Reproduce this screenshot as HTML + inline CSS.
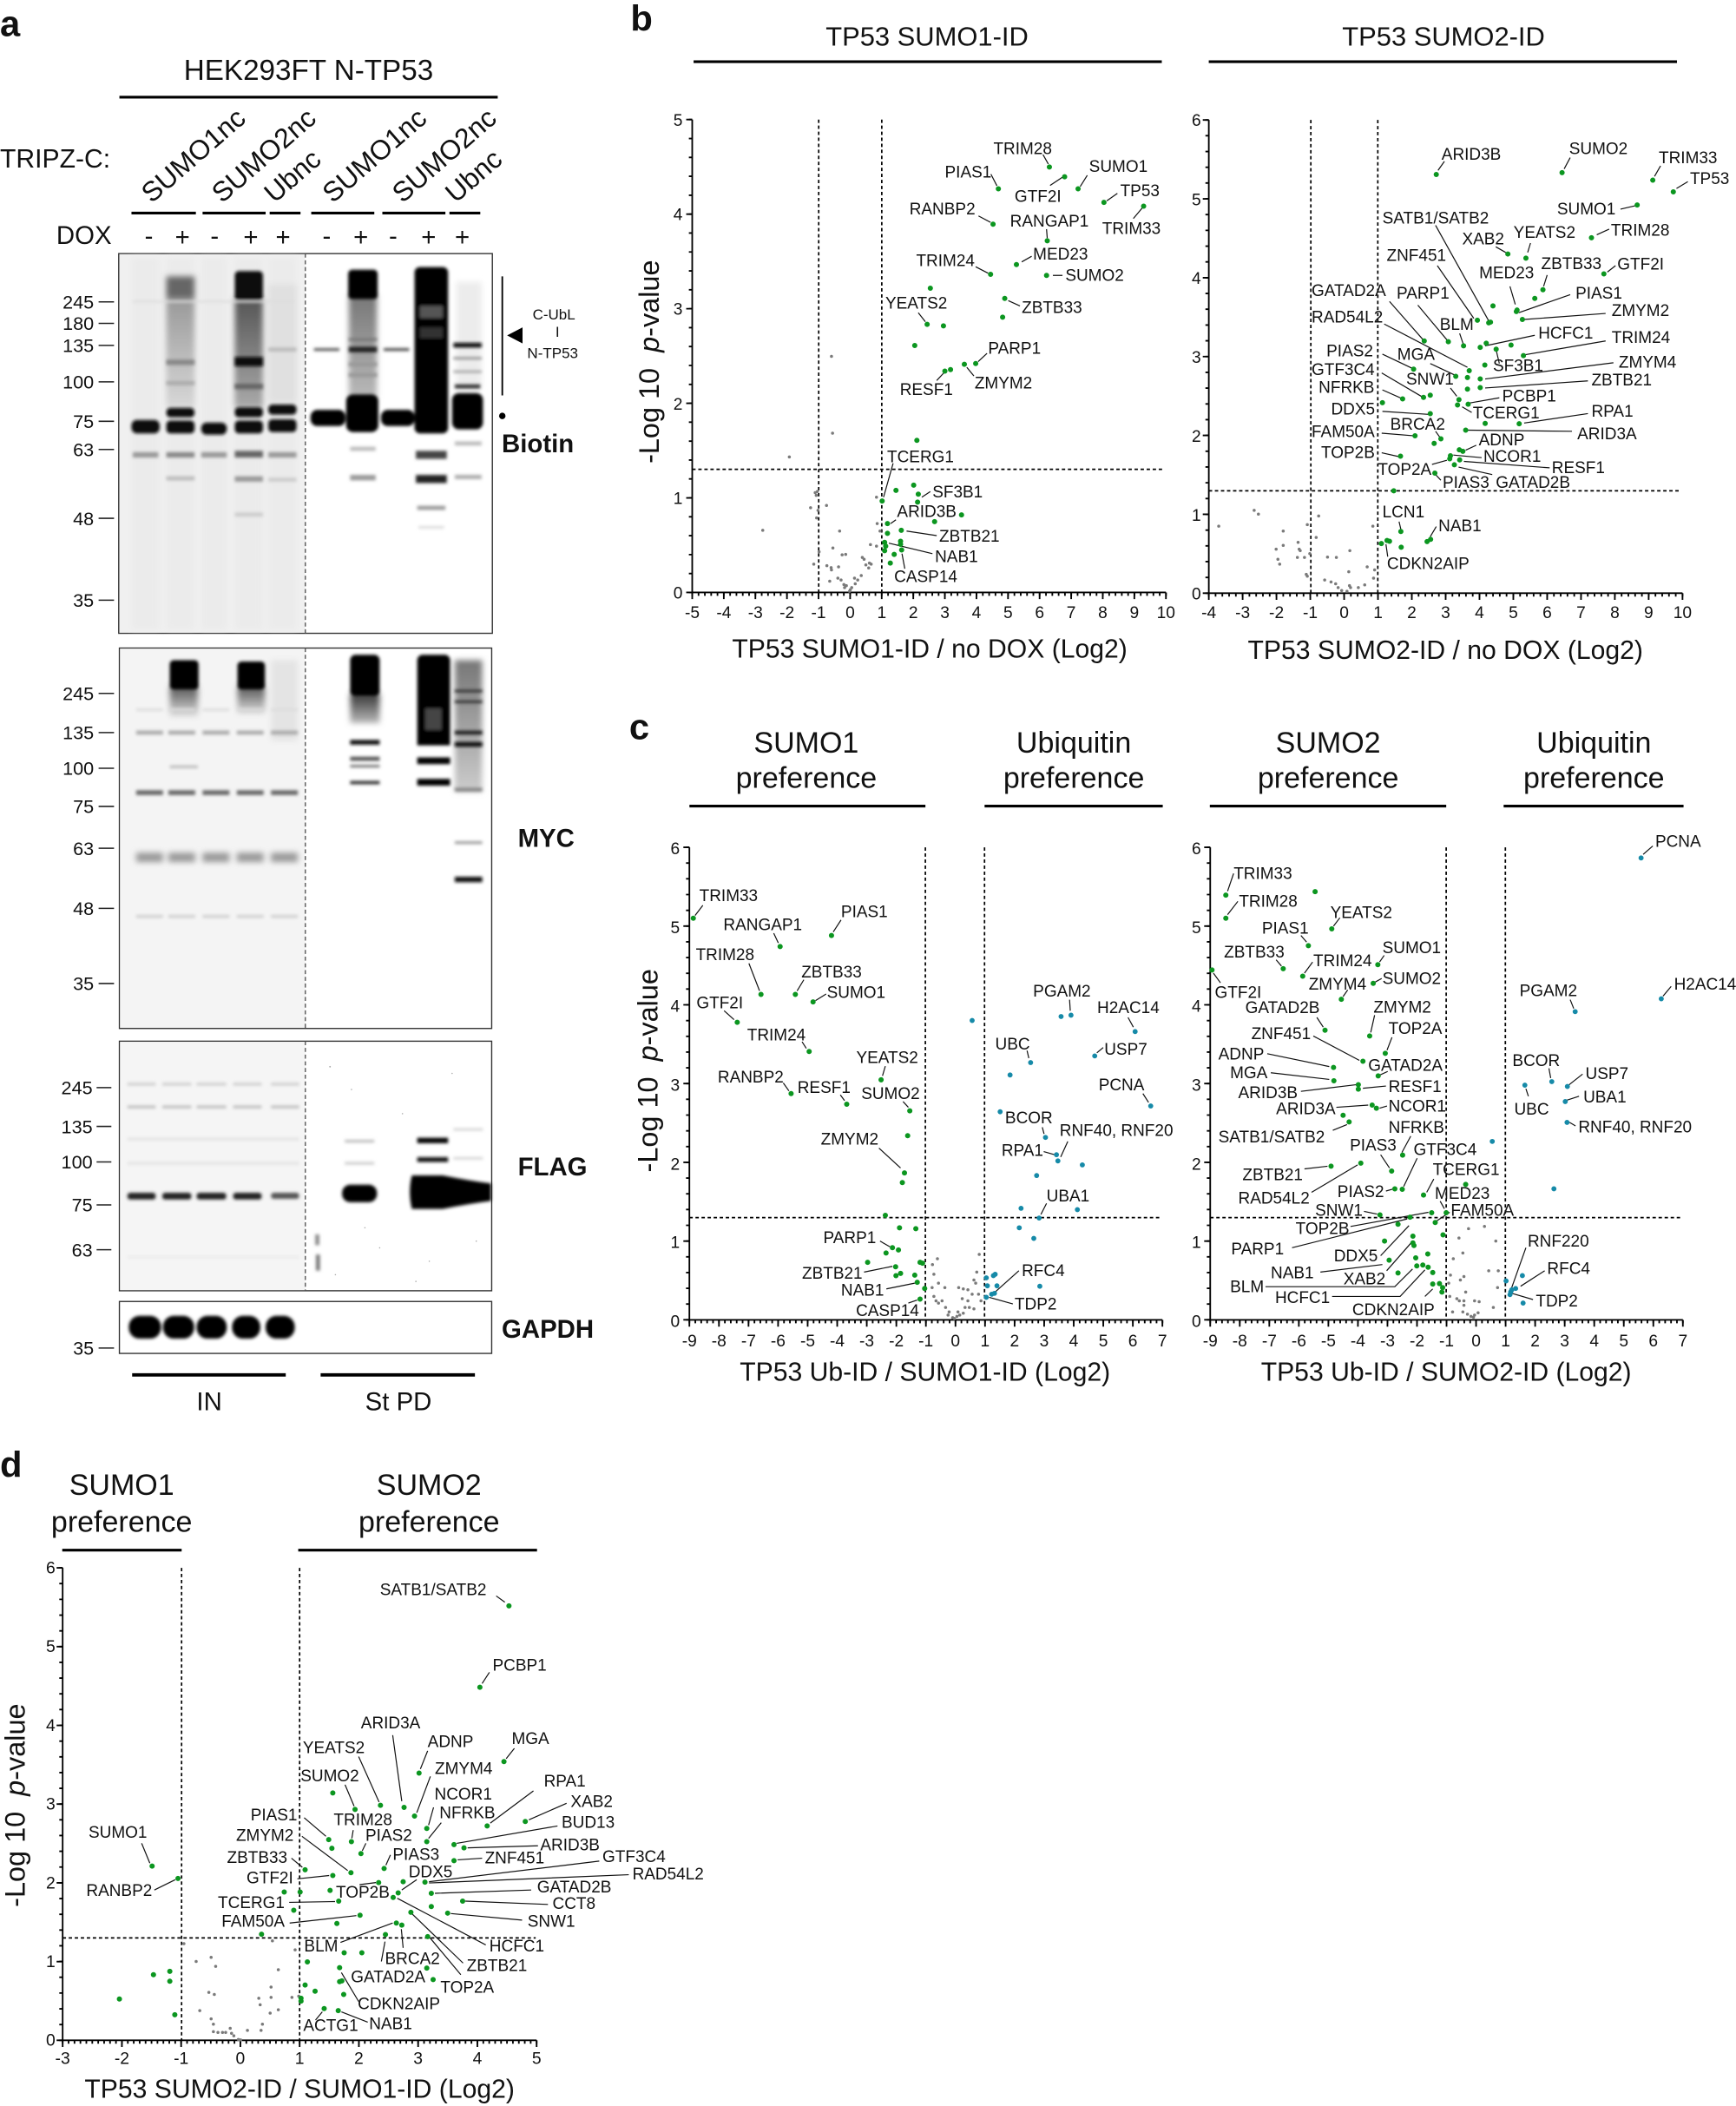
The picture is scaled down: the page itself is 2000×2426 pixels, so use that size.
<!DOCTYPE html>
<html><head><meta charset="utf-8"><style>
html,body{margin:0;padding:0;background:#fff}
svg{display:block}
svg text{font-family:"Liberation Sans",Arial,Helvetica,sans-serif;fill:#111}
.g3 text,.g4 text{transform-box:fill-box;transform-origin:0 100%;transform:scaleY(0.941)}
.g5 text,.g6 text{transform-box:fill-box;transform-origin:0 100%;transform:scaleY(0.8)}
.g7 text{transform-box:fill-box;transform-origin:0 100%;transform:scaleY(1.0994)}
.lb{font-size:46.5px}.tk{font-size:47px}
.lb7{font-size:36.3px}.tk7{font-size:37px}
.ld{fill:none;stroke:#111;stroke-width:1.2}
.gd{fill:none;stroke:#0c9620;stroke-width:6;stroke-linecap:round}
.bd{fill:none;stroke:#168aa8;stroke-width:5.8;stroke-linecap:round}
.gy{fill:none;stroke:#7a7a7a;stroke-width:3.5;stroke-linecap:round}
</style></head><body>
<svg xmlns="http://www.w3.org/2000/svg" width="2000" height="2426" viewBox="0 0 1294 1569.6" preserveAspectRatio="none">
<defs>
<filter id="bl" x="-20%" y="-20%" width="140%" height="140%"><feGaussianBlur stdDeviation="1.2"/></filter>
<filter id="bl2" x="-20%" y="-20%" width="140%" height="140%"><feGaussianBlur stdDeviation="2.2"/></filter>
<linearGradient id="gA" x1="0" y1="0" x2="0" y2="1"><stop offset="0" stop-color="#999"/><stop offset="1" stop-color="#d8d8d8"/></linearGradient>
<linearGradient id="gB" x1="0" y1="0" x2="0" y2="1"><stop offset="0" stop-color="#555"/><stop offset="1" stop-color="#aaa"/></linearGradient>
<linearGradient id="gC" x1="0" y1="0" x2="0" y2="1"><stop offset="0" stop-color="#777"/><stop offset="1" stop-color="#bbb"/></linearGradient>
<linearGradient id="gD" x1="0" y1="0" x2="0" y2="1"><stop offset="0" stop-color="#555"/><stop offset="1" stop-color="#e0e0e0"/></linearGradient>
<linearGradient id="gE" x1="0" y1="0" x2="0" y2="1"><stop offset="0" stop-color="#333"/><stop offset="1" stop-color="#bbb"/></linearGradient>
<linearGradient id="gF" x1="0" y1="0" x2="0" y2="1"><stop offset="0" stop-color="#777"/><stop offset="1" stop-color="#ccc"/></linearGradient>
</defs>
<rect x="0" y="0" width="1294" height="1569.6" fill="#fff"/>

<!-- ================= PANEL A ================= -->
<text x="0" y="27" font-size="27" font-weight="bold">a</text>
<text x="230" y="59.5" font-size="21.5" text-anchor="middle">HEK293FT N-TP53</text>
<line x1="89" y1="72.4" x2="371" y2="72.4" stroke="#000" stroke-width="2"/>
<text x="0" y="125" font-size="19.5">TRIPZ-C:</text>
<g font-size="20.5">
<text transform="translate(113,152) rotate(-41)">SUMO1nc</text>
<text transform="translate(165.5,152) rotate(-41)">SUMO2nc</text>
<text transform="translate(204.5,152) rotate(-41)">Ubnc</text>
<text transform="translate(248,152) rotate(-41)">SUMO1nc</text>
<text transform="translate(300,152) rotate(-41)">SUMO2nc</text>
<text transform="translate(339.5,152) rotate(-41)">Ubnc</text>
</g>
<g stroke="#000" stroke-width="2">
<line x1="98" y1="158.8" x2="146" y2="158.8"/><line x1="151" y1="158.8" x2="198" y2="158.8"/><line x1="201" y1="158.8" x2="224" y2="158.8"/>
<line x1="232" y1="158.8" x2="279" y2="158.8"/><line x1="285" y1="158.8" x2="332" y2="158.8"/><line x1="335" y1="158.8" x2="358" y2="158.8"/>
</g>
<text x="42" y="181.7" font-size="19">DOX</text>
<g font-size="19" text-anchor="middle">
<text x="111" y="182">-</text><text x="136" y="183">+</text><text x="160" y="182">-</text><text x="187" y="183">+</text><text x="211" y="183">+</text>
<text x="243.5" y="182">-</text><text x="269" y="183">+</text><text x="293" y="182">-</text><text x="319.5" y="183">+</text><text x="344.6" y="183">+</text>
</g>

<!-- Blot 1 Biotin -->
<rect x="88.5" y="189" width="278.5" height="283" fill="#fff" stroke="#333" stroke-width="0.9"/>
<rect x="89" y="189.5" width="138.5" height="282" fill="#f0f0f0"/>
<g fill="#ebebeb" filter="url(#bl2)"><rect x="98" y="192" width="21" height="277"/><rect x="124" y="192" width="21" height="277"/><rect x="150" y="192" width="19" height="277"/><rect x="175" y="192" width="21" height="277"/><rect x="200" y="192" width="21" height="277"/></g>
<g filter="url(#bl2)">
<rect x="124" y="206" width="21" height="18" fill="#666"/>
<rect x="124" y="222" width="21" height="82" fill="url(#gA)"/>
<rect x="175" y="222" width="21" height="82" fill="url(#gB)"/>
<rect x="200" y="212" width="21" height="88" fill="#e0e0e0"/>
<rect x="260" y="220" width="21" height="78" fill="url(#gC)"/>
<rect x="340" y="210" width="19" height="80" fill="#ececec"/>
</g>
<g filter="url(#bl)">
<rect x="99" y="224" width="120" height="1.5" fill="#ddd"/>
<rect x="98" y="313" width="21" height="10" rx="4" fill="#111"/>
<rect x="99" y="337" width="19" height="4" fill="#999"/>
<rect x="124" y="268" width="21" height="4" fill="#888"/>
<rect x="124" y="284" width="21" height="3" fill="#aaa"/>
<rect x="124" y="304" width="21" height="7" rx="3" fill="#111"/>
<rect x="124" y="313.5" width="21" height="9.5" rx="3" fill="#111"/>
<rect x="124" y="337" width="21" height="4" fill="#888"/>
<rect x="124" y="355" width="21" height="3" fill="#bbb"/>
<rect x="150" y="315" width="19" height="9" rx="4" fill="#111"/>
<rect x="150" y="337" width="19" height="4" fill="#999"/>
<rect x="175" y="202" width="21" height="22" rx="3" fill="#111"/>
<rect x="175" y="266" width="21" height="7" fill="#111"/>
<rect x="175" y="286" width="21" height="4" fill="#666"/>
<rect x="175" y="303.5" width="21" height="7.5" rx="3" fill="#111"/>
<rect x="175" y="313.5" width="21" height="9.5" rx="3" fill="#111"/>
<rect x="175" y="336" width="21" height="5" fill="#666"/>
<rect x="175" y="355" width="21" height="4" fill="#999"/>
<rect x="175" y="382" width="21" height="3" fill="#ccc"/>
<rect x="200" y="259" width="21" height="3" fill="#bbb"/>
<rect x="200" y="301.5" width="21" height="7.5" rx="3" fill="#111"/>
<rect x="200" y="312.5" width="21" height="9.5" rx="3" fill="#111"/>
<rect x="200" y="337" width="21" height="4" fill="#999"/>
<rect x="200" y="356" width="21" height="3" fill="#ccc"/>
<rect x="234" y="259.5" width="19" height="2" fill="#555"/>
<rect x="231.5" y="305.5" width="26" height="12" rx="5" fill="#000"/>
<rect x="259.5" y="201" width="22" height="22" rx="3" fill="#000"/>
<rect x="260" y="252" width="21" height="2" fill="#777"/>
<rect x="260" y="258.5" width="21" height="4" fill="#222"/>
<rect x="260" y="270" width="21" height="3" fill="#999"/>
<rect x="260" y="278" width="21" height="3" fill="#999"/>
<rect x="258" y="294" width="24" height="28" rx="5" fill="#000"/>
<rect x="261" y="333" width="19" height="3" fill="#bbb"/>
<rect x="261" y="354" width="19" height="4" fill="#999"/>
<rect x="286" y="259.5" width="19" height="2" fill="#444"/>
<rect x="284" y="305.5" width="25" height="12" rx="5" fill="#000"/>
<rect x="309" y="199" width="25" height="124" rx="4" fill="#000"/>
<rect x="313" y="228" width="17" height="9" fill="#555"/>
<rect x="313" y="244" width="17" height="8" fill="#333"/>
<rect x="310" y="336" width="23" height="6" fill="#444"/>
<rect x="310" y="354" width="23" height="6" fill="#222"/>
<rect x="311" y="377" width="21" height="3" fill="#999"/>
<rect x="312" y="392" width="19" height="2" fill="#ddd"/>
<rect x="338" y="255.5" width="21" height="3.5" fill="#111"/>
<rect x="338" y="266" width="21" height="2" fill="#999"/>
<rect x="338" y="276" width="21" height="2" fill="#aaa"/>
<rect x="339" y="286.5" width="19" height="3" fill="#333"/>
<rect x="337" y="293" width="23" height="27" rx="5" fill="#000"/>
<rect x="339" y="329" width="20" height="3" fill="#bbb"/>
<rect x="339" y="354" width="20" height="3" fill="#aaa"/>
</g>
<line x1="227.6" y1="189" x2="227.6" y2="472" stroke="#555" stroke-width="0.9" stroke-dasharray="3 2"/>

<!-- Blot 2 MYC -->
<rect x="89" y="483" width="277.5" height="283.5" fill="#fff" stroke="#333" stroke-width="0.9"/>
<rect x="89.5" y="483.5" width="138" height="282.5" fill="#f4f4f4"/>
<g filter="url(#bl2)">
<rect x="126.5" y="512" width="21" height="22" fill="url(#gD)"/>
<rect x="177" y="512" width="20.5" height="20" fill="url(#gD)"/>
<rect x="202" y="492" width="20" height="60" fill="#e4e4e4"/>
<rect x="261" y="517" width="22" height="22" fill="url(#gE)"/>
<rect x="339" y="492" width="20.5" height="98" fill="url(#gF)"/>
<g fill="#999"><rect x="101.5" y="635.5" width="20" height="7"/><rect x="125.5" y="635.5" width="20" height="7"/><rect x="151" y="635.5" width="20" height="7"/><rect x="176.5" y="635.5" width="20" height="7"/><rect x="202" y="635.5" width="20" height="7"/></g>
</g>
<g filter="url(#bl)">
<g fill="#ddd"><rect x="101.5" y="528" width="20" height="2"/><rect x="125.5" y="528" width="20" height="2"/><rect x="151" y="528" width="20" height="2"/><rect x="176.5" y="528" width="20" height="2"/><rect x="202" y="528" width="20" height="2"/></g>
<g fill="#aaa"><rect x="101.5" y="544.5" width="20" height="3"/><rect x="125.5" y="544.5" width="20" height="3"/><rect x="151" y="544.5" width="20" height="3"/><rect x="176.5" y="544.5" width="20" height="3"/><rect x="202" y="544.5" width="20" height="3"/></g>
<g fill="#666"><rect x="101.5" y="589" width="20" height="3.5"/><rect x="125.5" y="589" width="20" height="3.5"/><rect x="151" y="589" width="20" height="3.5"/><rect x="176.5" y="589" width="20" height="3.5"/><rect x="202" y="589" width="20" height="3.5"/></g>
<g fill="#ccc"><rect x="101.5" y="682" width="20" height="2"/><rect x="125.5" y="682" width="20" height="2"/><rect x="151" y="682" width="20" height="2"/><rect x="176.5" y="682" width="20" height="2"/><rect x="202" y="682" width="20" height="2"/></g>
<rect x="126.5" y="492" width="21.5" height="22" rx="3" fill="#000"/>
<rect x="126.5" y="570.5" width="21" height="2" fill="#bbb"/>
<rect x="177" y="493" width="20.5" height="21" rx="3" fill="#000"/>
<rect x="261" y="488" width="22" height="31" rx="4" fill="#000"/>
<rect x="261" y="551.5" width="22" height="3.5" fill="#111"/>
<rect x="261" y="564" width="22" height="3" fill="#555"/>
<rect x="261" y="570" width="22" height="2" fill="#777"/>
<rect x="261" y="582" width="22" height="2.5" fill="#333"/>
<rect x="311" y="488" width="24.5" height="66" rx="4" fill="#000"/>
<rect x="317" y="528" width="12" height="16" fill="#444"/>
<rect x="311" y="550.5" width="24.5" height="5" fill="#000"/>
<rect x="311" y="564.5" width="24.5" height="5" fill="#000"/>
<rect x="311" y="580.5" width="24.5" height="5" fill="#000"/>
<rect x="339" y="514" width="20.5" height="2" fill="#333"/>
<rect x="339" y="522" width="20.5" height="2" fill="#333"/>
<rect x="339" y="544.5" width="20.5" height="3" fill="#222"/>
<rect x="339" y="553" width="20.5" height="3.5" fill="#111"/>
<rect x="339" y="587" width="20.5" height="3" fill="#888"/>
<rect x="339" y="627" width="20.5" height="2" fill="#999"/>
<rect x="339" y="653.5" width="20.5" height="4" fill="#111"/>
</g>
<line x1="227.6" y1="483" x2="227.6" y2="766.5" stroke="#555" stroke-width="0.9" stroke-dasharray="3 2"/>

<!-- Blot 3 FLAG -->
<rect x="89" y="776" width="277.5" height="186" fill="#fff" stroke="#333" stroke-width="0.9"/>
<rect x="89.5" y="776.5" width="138" height="185" fill="#f5f5f5"/>
<g filter="url(#bl)">
<g fill="#222"><rect x="95" y="889" width="21" height="5" rx="2"/><rect x="121" y="889" width="21.6" height="5" rx="2"/><rect x="146.6" y="889" width="22" height="5" rx="2"/><rect x="173.8" y="889" width="21.2" height="5" rx="2"/></g>
<rect x="202" y="889" width="21" height="4.5" rx="2" fill="#555"/>
<g fill="#ccc"><rect x="95" y="807" width="21" height="2"/><rect x="121" y="807" width="21.6" height="2"/><rect x="146.6" y="807" width="22" height="2"/><rect x="173.8" y="807" width="21.2" height="2"/><rect x="202" y="807" width="21" height="2"/></g>
<g fill="#bbb"><rect x="95" y="824" width="21" height="2"/><rect x="121" y="824" width="21.6" height="2"/><rect x="146.6" y="824" width="22" height="2"/><rect x="173.8" y="824" width="21.2" height="2"/><rect x="202" y="824" width="21" height="2"/></g>
<g fill="#e2e2e2"><rect x="95" y="848" width="128" height="2"/><rect x="95" y="866" width="128" height="2"/></g>
<rect x="95" y="936" width="128" height="2" fill="#ebebeb"/>
<rect x="255" y="883" width="26" height="13" rx="6" fill="#000"/>
<rect x="257" y="849.5" width="22" height="2" fill="#bbb"/>
<rect x="257" y="866" width="22" height="2" fill="#ccc"/>
<path d="M307 876 Q304 888 307 901 L330 901 Q350 897 366 895 L366 882 Q350 880 330 876 Z" fill="#000"/>
<rect x="311" y="848" width="23" height="4" fill="#000"/>
<rect x="311" y="862.5" width="23" height="3.5" fill="#111"/>
<rect x="338" y="841" width="22" height="1.5" fill="#ccc"/>
<rect x="338" y="862.5" width="22" height="1.5" fill="#ccc"/>
<rect x="235" y="920" width="3" height="8" fill="#888"/>
<rect x="235.5" y="935" width="3" height="12" fill="#777"/>
</g>
<g fill="#aaa"><circle cx="246" cy="795" r="0.6"/><circle cx="262" cy="812" r="0.5"/><circle cx="300" cy="830" r="0.5"/><circle cx="283" cy="930" r="0.5"/><circle cx="250" cy="950" r="0.5"/><circle cx="320" cy="940" r="0.5"/><circle cx="355" cy="925" r="0.5"/><circle cx="272" cy="915" r="0.5"/><circle cx="337" cy="800" r="0.5"/><circle cx="310" cy="955" r="0.5"/></g>
<line x1="227.6" y1="776" x2="227.6" y2="962" stroke="#555" stroke-width="0.9" stroke-dasharray="3 2"/>

<!-- Blot 4 GAPDH -->
<rect x="89" y="970" width="277.5" height="38.7" fill="#fff" stroke="#333" stroke-width="0.9"/>
<g filter="url(#bl)" fill="#000">
<rect x="96" y="980.7" width="24" height="17" rx="8"/><rect x="121.5" y="980.7" width="23.2" height="17" rx="8"/><rect x="146.6" y="980.7" width="22.4" height="17" rx="8"/><rect x="173" y="980.7" width="21" height="17" rx="8"/><rect x="198" y="980.7" width="21.7" height="17" rx="8"/>
</g>

<!-- MW markers -->
<g font-size="14" text-anchor="end">
<text x="70" y="230">245</text><text x="70" y="246">180</text><text x="70" y="262.4">135</text><text x="70" y="289.6">100</text><text x="70" y="319">75</text><text x="70" y="340">63</text><text x="70" y="391.3">48</text><text x="70" y="452.3">35</text>
<text x="70" y="521.8">245</text><text x="70" y="551">135</text><text x="70" y="577.6">100</text><text x="70" y="606">75</text><text x="70" y="637.2">63</text><text x="70" y="682">48</text><text x="70" y="738">35</text>
<text x="69" y="815.6">245</text><text x="69" y="844.5">135</text><text x="69" y="871">100</text><text x="69" y="903">75</text><text x="69" y="936.4">63</text>
<text x="70" y="1009.7">35</text>
</g>
<g stroke="#222" stroke-width="1">
<path d="M73.5 225H85M73.5 241H85M73.5 257.4H85M73.5 284.6H85M73.5 314H85M73.5 335H85M73.5 386.3H85M73.5 447.3H85"/>
<path d="M73.5 516.8H85M73.5 546H85M73.5 572.6H85M73.5 601H85M73.5 632.2H85M73.5 677H85M73.5 733H85"/>
<path d="M72 810.6H83M72 839.5H83M72 866H83M72 898H83M72 931.4H83"/>
<path d="M73.5 1004.7H85"/>
</g>
<!-- right annotations -->
<line x1="374.4" y1="206" x2="374.4" y2="294.7" stroke="#000" stroke-width="1.2"/>
<path d="M378 250 L389.5 244 L389.5 256 Z" fill="#000"/>
<g font-size="11"><text x="397" y="238">C-UbL</text><text x="414" y="251">I</text><text x="393" y="267">N-TP53</text></g>
<circle cx="374.4" cy="310" r="2.4" fill="#000"/>
<g font-size="19" font-weight="bold">
<text x="374" y="337">Biotin</text>
<text x="386" y="631">MYC</text>
<text x="386" y="876">FLAG</text>
<text x="374" y="997">GAPDH</text>
</g>
<line x1="98.5" y1="1024.7" x2="213" y2="1024.7" stroke="#000" stroke-width="2.5"/>
<line x1="239" y1="1024.7" x2="354" y2="1024.7" stroke="#000" stroke-width="2.5"/>
<text x="156" y="1051" font-size="19" text-anchor="middle">IN</text>
<text x="297" y="1051" font-size="19" text-anchor="middle">St PD</text>

<!-- ================= PANEL B ================= -->
<text x="470" y="23" font-size="27" font-weight="bold">b</text>
<text x="691" y="34" font-size="20" text-anchor="middle">TP53 SUMO1-ID</text>
<line x1="517" y1="46" x2="866" y2="46" stroke="#000" stroke-width="2"/>
<text x="1076" y="34" font-size="20" text-anchor="middle">TP53 SUMO2-ID</text>
<line x1="901" y1="46" x2="1250" y2="46" stroke="#000" stroke-width="2"/>
<text transform="translate(491,269.6) rotate(-90)" font-size="21" text-anchor="middle" xml:space="preserve">-Log 10  <tspan font-style="italic">p</tspan>-value</text>
<text x="693" y="490" font-size="19.5" text-anchor="middle">TP53 SUMO1-ID / no DOX (Log2)</text>
<text x="1077.4" y="491" font-size="19.5" text-anchor="middle">TP53 SUMO2-ID / no DOX (Log2)</text>

<g class="g3" transform="translate(465.8,64.7) scale(0.2641,0.2806)">
<g stroke="#000" fill="none">
<line x1="547" y1="87" x2="547" y2="1343" stroke-width="4.2" stroke-dasharray="8.9 7.1"/>
<line x1="725" y1="87" x2="725" y2="1343" stroke-width="4.2" stroke-dasharray="8.9 7.1"/>
<line x1="190" y1="1016" x2="1522" y2="1016" stroke-width="3.9" stroke-dasharray="9.5 7.6"/>
<line x1="190" y1="87" x2="190" y2="1343" stroke-width="4.54"/>
<line x1="188" y1="1343" x2="1527" y2="1343" stroke-width="4.28"/>
<line x1="181.5" y1="84.86" x2="181.5" y2="1346" stroke-width="17" stroke-dasharray="4.28 246.92"/>
<line x1="185.25" y1="84.86" x2="185.25" y2="1346" stroke-width="9.5" stroke-dasharray="4.28 45.96"/>
<line x1="187.73" y1="1351.9" x2="1531" y2="1351.9" stroke-width="17.8" stroke-dasharray="4.54 84.59"/>
<line x1="187.73" y1="1347.45" x2="1531" y2="1347.45" stroke-width="8.9" stroke-dasharray="4.54 13.29"/>
</g>
<g class="tk" text-anchor="end"><text x="163" y="102.6">5</text><text x="163" y="353.6">4</text><text x="163" y="604.6">3</text><text x="163" y="856.6">2</text><text x="163" y="1107.6">1</text><text x="163" y="1358.6">0</text></g>
<g class="tk" text-anchor="middle"><text x="190" y="1410">-5</text><text x="279.1" y="1410">-4</text><text x="368.3" y="1410">-3</text><text x="457.4" y="1410">-2</text><text x="546.5" y="1410">-1</text><text x="635.7" y="1410">0</text><text x="724.8" y="1410">1</text><text x="813.9" y="1410">2</text><text x="903" y="1410">3</text><text x="992.2" y="1410">4</text><text x="1081.3" y="1410">5</text><text x="1170.4" y="1410">6</text><text x="1259.6" y="1410">7</text><text x="1348.7" y="1410">8</text><text x="1437.8" y="1410">9</text><text x="1527" y="1410">10</text></g>
<path class="gy" vector-effect="non-scaling-stroke" d="M583 716h.1M586 920h.1M464 983h.1M389 1178h.1M537 1078h.1M543 1075h.1M540 1085h.1M524 1118h.1M545 1125h.1M569 1112h.1M541 1145h.1M710 1090h.1M712 1160h.1M606 1180h.1M720 1180h.1M587 1225h.1M533 1268h.1M548 1235h.1M570 1272h.1M583 1283h.1M582 1277h.1M603 1275h.1M613 1243h.1M623 1242h.1M578 1313h.1M601 1305h.1M610 1310h.1M618 1322h.1M620 1330h.1M634 1340h.1M640 1330h.1M650 1320h.1M657 1310h.1M667 1298h.1M670 1250h.1M675 1255h.1M680 1270h.1M688 1278h.1M693 1216h.1M710 1220h.1M690 1265h.1M695 1268h.1M648 1305h.1M625 1325h.1M636 1336h.1"/>
<path class="ld" vector-effect="non-scaling-stroke" d="M1180 180L1195 205M1200 262L1235 240M1285 265L1305 235M1033 232L1050 263M1360 303L1390 283M1435 350L1460 322M998 343L1032 360M1190 378L1192 402M1120 465L1148 450M990 478L1025 495M1208 501L1235 501M1082 568L1115 582M828 600L848 624M997 730L1022 708M965 745L985 768M880 780L900 760M757 1000L730 1090M838 1090L862 1075M750 1160L765 1150M795 1180L880 1192M745 1212L868 1240M782 1240L790 1280"/>
<path class="gd" vector-effect="non-scaling-stroke" d="M1198 213h.1M1241 239h.1M1279 271h.1M1054 271h.1M1352 307h.1M1464 317h.1M1039 365h.1M1192 409h.1M1105 472h.1M1032 498h.1M1190 501h.1M862 535h.1M1072 562h.1M1066 612h.1M853 631h.1M899 635h.1M818 687h.1M990 735h.1M958 737h.1M903 755h.1M919 751h.1M824 939h.1M726 1100h.1M828 1082h.1M815 1058h.1M765 1072h.1M826 1103h.1M950 1137h.1M874 1155h.1M741 1160h.1M741 1186h.1M780 1178h.1M733 1210h.1M736 1220h.1M733 1232h.1M778 1207h.1M778 1215h.1M760 1242h.1M781 1230h.1M749 1265h.1"/>
<g class="lb">
<text x="1040" y="178">TRIM28</text><text x="1100" y="305">GTF2I</text><text x="1310" y="225">SUMO1</text><text x="903" y="240">PIAS1</text><text x="1398" y="290">TP53</text><text x="1347" y="390">TRIM33</text><text x="803" y="338">RANBP2</text><text x="1087" y="370">RANGAP1</text><text x="1152" y="458">MED23</text><text x="822" y="475">TRIM24</text><text x="1243" y="515">SUMO2</text><text x="1120" y="600">ZBTB33</text><text x="735" y="588">YEATS2</text><text x="1025" y="708">PARP1</text><text x="987" y="800">ZMYM2</text><text x="776" y="818">RESF1</text><text x="740" y="997">TCERG1</text><text x="868" y="1090">SF3B1</text><text x="768" y="1142">ARID3B</text><text x="887" y="1207">ZBTB21</text><text x="875" y="1262">NAB1</text><text x="760" y="1315">CASP14</text>
</g>
</g>

<g class="g4" transform="translate(879.9,64.7) scale(0.2641,0.2806)">
<g stroke="#000" fill="none">
<line x1="368" y1="88" x2="368" y2="1345" stroke-width="4.2" stroke-dasharray="8.9 7.1"/>
<line x1="557" y1="88" x2="557" y2="1345" stroke-width="4.2" stroke-dasharray="8.9 7.1"/>
<line x1="80" y1="1073" x2="1412" y2="1073" stroke-width="3.9" stroke-dasharray="9.5 7.6"/>
<line x1="80" y1="88" x2="80" y2="1345" stroke-width="4.54"/>
<line x1="78" y1="1345" x2="1417" y2="1345" stroke-width="4.28"/>
<line x1="71.5" y1="85.86" x2="71.5" y2="1348" stroke-width="17" stroke-dasharray="4.28 205.22"/>
<line x1="75.25" y1="85.86" x2="75.25" y2="1348" stroke-width="9.5" stroke-dasharray="4.28 37.62"/>
<line x1="77.73" y1="1353.9" x2="1421" y2="1353.9" stroke-width="17.8" stroke-dasharray="4.54 90.96"/>
<line x1="77.73" y1="1349.45" x2="1421" y2="1349.45" stroke-width="8.9" stroke-dasharray="4.54 14.56"/>
</g>
<g class="tk" text-anchor="end"><text x="58" y="103.6">6</text><text x="58" y="313.6">5</text><text x="58" y="522.6">4</text><text x="58" y="732.6">3</text><text x="58" y="942.6">2</text><text x="58" y="1151.6">1</text><text x="58" y="1360.6">0</text></g>
<g class="tk" text-anchor="middle"><text x="80" y="1410">-4</text><text x="175.5" y="1410">-3</text><text x="271" y="1410">-2</text><text x="366.5" y="1410">-1</text><text x="462" y="1410">0</text><text x="557.5" y="1410">1</text><text x="653" y="1410">2</text><text x="748.5" y="1410">3</text><text x="844" y="1410">4</text><text x="939.5" y="1410">5</text><text x="1035" y="1410">6</text><text x="1130.5" y="1410">7</text><text x="1226" y="1410">8</text><text x="1321.5" y="1410">9</text><text x="1417" y="1410">10</text></g>
<path class="gy" vector-effect="non-scaling-stroke" d="M108 1167h.1M208 1125h.1M220 1135h.1M290 1180h.1M290 1218h.1M270 1228h.1M275 1255h.1M280 1268h.1M332 1210h.1M335 1228h.1M338 1232h.1M330 1250h.1M350 1250h.1M355 1295h.1M358 1300h.1M390 1140h.1M383 1197h.1M358 1163h.1M365 1240h.1M415 1249h.1M440 1250h.1M407 1310h.1M425 1315h.1M438 1320h.1M445 1330h.1M455 1338h.1M470 1340h.1M477 1325h.1M480 1330h.1M502 1330h.1M520 1323h.1M527 1275h.1M545 1305h.1M548 1283h.1M543 1167h.1M478 1232h.1M475 1288h.1"/>
<path class="ld" vector-effect="non-scaling-stroke" d="M727 222L745 198M1083 218L1100 188M1338 238L1355 210M1400 270L1432 252M1242 325L1283 316M720 368L872 625M1175 393L1210 378M890 425L918 440M980 440L988 415M725 475L828 615M1025 530L1035 500M1205 492L1228 475M930 530L945 578M955 600L1100 552M970 618L1200 602M590 570L685 672M670 580L752 672M575 630L810 745M788 655L798 683M860 688L1000 660M970 712L1200 675M900 735L892 703M570 710L655 748M705 735L773 765M860 776L1222 733M568 760L685 825M762 800L780 822M860 800L1150 781M570 805L625 828M815 840L900 826M570 862L700 870M795 850L822 865M970 893L1150 868M720 915L733 932M568 920L660 927M810 912L1105 915M805 965L835 952M568 972L615 982M770 978L850 985M800 995L1042 1012M710 1003L752 992M720 1030L735 1045M785 1010L880 1030M617 1155L622 1175M705 1195L722 1168M580 1215L585 1248"/>
<path class="gd" vector-effect="non-scaling-stroke" d="M722 233h.1M1077 228h.1M1333 248h.1M1391 279h.1M1289 314h.1M1160 401h.1M924 444h.1M975 455h.1M1023 539h.1M1195 497h.1M948 597h.1M950 593h.1M1000 562h.1M882 582h.1M965 618h.1M688 675h.1M756 677h.1M838 620h.1M870 627h.1M875 625h.1M815 754h.1M799 688h.1M846 692h.1M863 681h.1M968 714h.1M891 697h.1M933 686h.1M859 739h.1M658 750h.1M777 769h.1M846 776h.1M810 772h.1M810 803h.1M686 825h.1M705 819h.1M786 831h.1M782 845h.1M846 799h.1M627 829h.1M812 843h.1M570 839h.1M705 868h.1M956 895h.1M860 894h.1M735 935h.1M662 927h.1M805 912h.1M716 947h.1M787 964h.1M797 968h.1M621 981h.1M762 980h.1M760 988h.1M788 991h.1M718 1026h.1M773 1004h.1M602 1073h.1M622 1181h.1M696 1208h.1M706 1202h.1M567 1213h.1M583 1205h.1M590 1207h.1M623 1223h.1"/>
<g class="lb">
<text x="737" y="193">ARID3B</text><text x="1097" y="178">SUMO2</text><text x="1350" y="202">TRIM33</text><text x="1438" y="258">TP53</text><text x="1063" y="338">SUMO1</text><text x="570" y="362">SATB1/SATB2</text><text x="1215" y="395">TRIM28</text><text x="795" y="418">XAB2</text><text x="940" y="400">YEATS2</text><text x="582" y="462">ZNF451</text><text x="1018" y="484">ZBTB33</text><text x="1233" y="485">GTF2I</text><text x="843" y="508">MED23</text><text x="1115" y="562">PIAS1</text><text x="1217" y="608">ZMYM2</text><text x="370" y="555">GATAD2A</text><text x="610" y="562">PARP1</text><text x="370" y="625">RAD54L2</text><text x="732" y="645">BLM</text><text x="1010" y="668">HCFC1</text><text x="1217" y="680">TRIM24</text><text x="882" y="755">SF3B1</text><text x="412" y="715">PIAS2</text><text x="612" y="725">MGA</text><text x="1237" y="745">ZMYM4</text><text x="370" y="765">GTF3C4</text><text x="637" y="790">SNW1</text><text x="1160" y="792">ZBTB21</text><text x="390" y="812">NFRKB</text><text x="908" y="835">PCBP1</text><text x="425" y="870">DDX5</text><text x="825" y="880">TCERG1</text><text x="1160" y="875">RPA1</text><text x="592" y="910">BRCA2</text><text x="370" y="930">FAM50A</text><text x="1120" y="935">ARID3A</text><text x="842" y="952">ADNP</text><text x="397" y="985">TOP2B</text><text x="855" y="995">NCOR1</text><text x="1048" y="1025">RESF1</text><text x="557" y="1030">TOP2A</text><text x="740" y="1065">PIAS3</text><text x="890" y="1065">GATAD2B</text><text x="570" y="1143">LCN1</text><text x="728" y="1180">NAB1</text><text x="583" y="1280">CDKN2AIP</text>
</g>
</g>

<!-- ================= PANEL C ================= -->
<text x="469" y="551" font-size="27" font-weight="bold">c</text>
<g font-size="22" text-anchor="middle">
<text x="601" y="561">SUMO1</text><text x="601" y="587.3">preference</text>
<text x="800.4" y="561">Ubiquitin</text><text x="800.4" y="587.3">preference</text>
<text x="990" y="561">SUMO2</text><text x="990" y="587.3">preference</text>
<text x="1188.1" y="561">Ubiquitin</text><text x="1188.1" y="587.3">preference</text>
</g>
<g stroke="#000" stroke-width="2">
<line x1="513.9" y1="600.8" x2="689.8" y2="600.8"/><line x1="733.9" y1="600.8" x2="866.7" y2="600.8"/>
<line x1="901.8" y1="600.8" x2="1078" y2="600.8"/><line x1="1120.8" y1="600.8" x2="1254.9" y2="600.8"/>
</g>
<text transform="translate(490,797.9) rotate(-90)" font-size="21" text-anchor="middle" xml:space="preserve">-Log 10  <tspan font-style="italic">p</tspan>-value</text>
<text x="689.5" y="1029" font-size="19.5" text-anchor="middle">TP53 Ub-ID / SUMO1-ID (Log2)</text>
<text x="1078" y="1029" font-size="19.5" text-anchor="middle">TP53 Ub-ID / SUMO2-ID (Log2)</text>

<g class="g5" transform="translate(465.8,530.5) scale(0.2641,0.3301)">
<g stroke="#000" fill="none">
<line x1="848" y1="306" x2="848" y2="1373" stroke-width="4.2" stroke-dasharray="7.6 6.06"/>
<line x1="1015" y1="306" x2="1015" y2="1373" stroke-width="4.2" stroke-dasharray="7.6 6.06"/>
<line x1="182" y1="1142" x2="1512" y2="1142" stroke-width="3.33" stroke-dasharray="9.5 7.6"/>
<line x1="182" y1="306" x2="182" y2="1373" stroke-width="4.54"/>
<line x1="180" y1="1373" x2="1517" y2="1373" stroke-width="3.64"/>
<line x1="173.5" y1="304.18" x2="173.5" y2="1376" stroke-width="17" stroke-dasharray="3.64 174.16"/>
<line x1="177.25" y1="304.18" x2="177.25" y2="1376" stroke-width="9.5" stroke-dasharray="3.64 31.92"/>
<line x1="179.73" y1="1380.6" x2="1521" y2="1380.6" stroke-width="15.1" stroke-dasharray="4.54 78.9"/>
<line x1="179.73" y1="1376.8" x2="1521" y2="1376.8" stroke-width="7.6" stroke-dasharray="4.54 12.15"/>
</g>
<g class="tk" text-anchor="end"><text x="155" y="319.3">6</text><text x="155" y="497.3">5</text><text x="155" y="675.3">4</text><text x="155" y="853.3">3</text><text x="155" y="1031.3">2</text><text x="155" y="1208.3">1</text><text x="155" y="1386.3">0</text></g>
<g class="tk" text-anchor="middle"><text x="182" y="1430">-9</text><text x="265.4" y="1430">-8</text><text x="348.9" y="1430">-7</text><text x="432.3" y="1430">-6</text><text x="515.8" y="1430">-5</text><text x="599.2" y="1430">-4</text><text x="682.6" y="1430">-3</text><text x="766.1" y="1430">-2</text><text x="849.5" y="1430">-1</text><text x="933" y="1430">0</text><text x="1016.4" y="1430">1</text><text x="1099.8" y="1430">2</text><text x="1183.3" y="1430">3</text><text x="1266.7" y="1430">4</text><text x="1350.2" y="1430">5</text><text x="1433.6" y="1430">6</text><text x="1517" y="1430">7</text></g>
<path class="gy" vector-effect="non-scaling-stroke" d="M882 1235h.1M868 1248h.1M872 1270h.1M885 1290h.1M867 1300h.1M903 1300h.1M872 1320h.1M878 1330h.1M885 1335h.1M895 1330h.1M905 1345h.1M915 1355h.1M912 1362h.1M925 1368h.1M930 1370h.1M937 1365h.1M945 1362h.1M955 1358h.1M942 1300h.1M955 1303h.1M968 1305h.1M990 1290h.1M985 1283h.1M993 1265h.1M1000 1225h.1M980 1315h.1M998 1315h.1M1005 1330h.1M960 1345h.1M972 1345h.1M985 1348h.1M968 1330h.1M952 1325h.1M940 1355h.1"/>
<path class="ld" vector-effect="non-scaling-stroke" d="M198 460L220 437M433 522L420 500M588 497L610 470M380 630L350 568M486 630L505 605M538 652L568 637M308 695L280 675M512 760L500 745M727 822L735 800M463 856L447 838M620 878L608 865M800 893L785 880M717 985L778 1030M720 1195L748 1208M675 1265L755 1252M738 1303L818 1290M800 1335L825 1328M1257 675L1255 650M1435 712L1420 690M1332 770L1350 758M1140 782L1135 765M1478 882L1462 862M1183 953L1178 938M1230 1005L1250 970M1182 993L1213 1000M1174 1135L1190 1110M1045 1310L1112 1262M1028 1322L1095 1337"/>
<path class="gd" vector-effect="non-scaling-stroke" d="M193 466h.1M438 530h.1M583 505h.1M384 638h.1M481 638h.1M531 655h.1M317 701h.1M520 767h.1M723 831h.1M469 862h.1M626 886h.1M804 901h.1M798 957h.1M789 1041h.1M783 1063h.1M735 1137h.1M775 1165h.1M821 1167h.1M755 1210h.1M772 1215h.1M737 1222h.1M685 1243h.1M833 1243h.1M840 1245h.1M764 1253h.1M765 1273h.1M778 1268h.1M818 1272h.1M825 1288h.1M846 1302h.1M833 1326h.1"/>
<path class="bd" vector-effect="non-scaling-stroke" d="M980 697h.1M1231 688h.1M1259 685h.1M1440 722h.1M1326 777h.1M1145 792h.1M1087 820h.1M1484 890h.1M1059 903h.1M1187 961h.1M1218 1000h.1M1222 1014h.1M1291 1023h.1M1162 1047h.1M1169 1143h.1M1118 1121h.1M1277 1124h.1M1113 1165h.1M1154 1189h.1M1020 1278h.1M1045 1270h.1M1040 1273h.1M1023 1296h.1M1050 1296h.1M1035 1315h.1M1043 1313h.1M1020 1322h.1M1171 1297h.1"/>
<g class="lb">
<text x="210" y="425">TRIM33</text><text x="278" y="491">RANGAP1</text><text x="610" y="461">PIAS1</text><text x="200" y="558">TRIM28</text><text x="498" y="597">ZBTB33</text><text x="570" y="643">SUMO1</text><text x="202" y="667">GTF2I</text><text x="345" y="740">TRIM24</text><text x="653" y="790">YEATS2</text><text x="262" y="835">RANBP2</text><text x="487" y="858">RESF1</text><text x="667" y="872">SUMO2</text><text x="553" y="975">ZMYM2</text><text x="560" y="1197">PARP1</text><text x="500" y="1278">ZBTB21</text><text x="610" y="1316">NAB1</text><text x="652" y="1362">CASP14</text>
<text x="1152" y="641">PGAM2</text><text x="1333" y="678">H2AC14</text><text x="1353" y="772">USP7</text><text x="1045" y="760">UBC</text><text x="1337" y="852">PCNA</text><text x="1073" y="927">BCOR</text><text x="1227" y="955">RNF40, RNF20</text><text x="1063" y="1000">RPA1</text><text x="1190" y="1103">UBA1</text><text x="1120" y="1272">RFC4</text><text x="1100" y="1347">TDP2</text>
</g>
</g>

<g class="g6" transform="translate(879.9,530.5) scale(0.2641,0.3301)">
<g stroke="#000" fill="none">
<line x1="750" y1="306" x2="750" y2="1373" stroke-width="4.2" stroke-dasharray="7.6 6.06"/>
<line x1="917" y1="306" x2="917" y2="1373" stroke-width="4.2" stroke-dasharray="7.6 6.06"/>
<line x1="84" y1="1142" x2="1412" y2="1142" stroke-width="3.33" stroke-dasharray="9.5 7.6"/>
<line x1="84" y1="306" x2="84" y2="1373" stroke-width="4.54"/>
<line x1="82" y1="1373" x2="1418" y2="1373" stroke-width="3.64"/>
<line x1="75.5" y1="304.18" x2="75.5" y2="1376" stroke-width="17" stroke-dasharray="3.64 174.16"/>
<line x1="79.25" y1="304.18" x2="79.25" y2="1376" stroke-width="9.5" stroke-dasharray="3.64 31.92"/>
<line x1="81.73" y1="1380.6" x2="1422" y2="1380.6" stroke-width="15.1" stroke-dasharray="4.54 78.835"/>
<line x1="81.73" y1="1376.8" x2="1422" y2="1376.8" stroke-width="7.6" stroke-dasharray="4.54 12.135"/>
</g>
<g class="tk" text-anchor="end"><text x="58" y="319.3">6</text><text x="58" y="497.3">5</text><text x="58" y="675.3">4</text><text x="58" y="853.3">3</text><text x="58" y="1031.3">2</text><text x="58" y="1208.3">1</text><text x="58" y="1386.3">0</text></g>
<g class="tk" text-anchor="middle"><text x="84" y="1430">-9</text><text x="167.4" y="1430">-8</text><text x="250.8" y="1430">-7</text><text x="334.1" y="1430">-6</text><text x="417.5" y="1430">-5</text><text x="500.9" y="1430">-4</text><text x="584.3" y="1430">-3</text><text x="667.6" y="1430">-2</text><text x="751" y="1430">-1</text><text x="834.4" y="1430">0</text><text x="917.8" y="1430">1</text><text x="1001.1" y="1430">2</text><text x="1084.5" y="1430">3</text><text x="1167.9" y="1430">4</text><text x="1251.3" y="1430">5</text><text x="1334.6" y="1430">6</text><text x="1418" y="1430">7</text></g>
<path class="gy" vector-effect="non-scaling-stroke" d="M858 1162h.1M813 1167h.1M890 1195h.1M786 1188h.1M770 1235h.1M797 1222h.1M790 1283h.1M800 1275h.1M762 1272h.1M757 1290h.1M870 1262h.1M897 1262h.1M895 1300h.1M760 1320h.1M780 1325h.1M787 1330h.1M800 1330h.1M805 1310h.1M830 1330h.1M843 1332h.1M883 1345h.1M768 1355h.1M797 1355h.1M810 1360h.1M820 1365h.1M830 1362h.1M840 1357h.1M827 1367h.1M800 1340h.1"/>
<path class="ld" vector-effect="non-scaling-stroke" d="M133 405L150 365M133 458L162 428M432 484L450 465M356 520L340 505M285 574L270 560M562 565L575 550M350 590L373 565M93 590L113 612M550 610L568 602M459 643L472 628M403 712L385 690M537 724L548 685M583 764L597 735M375 732L505 787M245 772L420 801M563 820L585 812M255 815L420 830M515 850L580 845M340 857L495 842M440 893L530 888M562 895L583 890M430 945L470 932M625 995L650 958M590 1030L565 1000M630 1072L668 1008M350 1032L415 1026M370 1085L500 1023M580 1082L598 1078M695 1085L715 1055M745 1122L733 1105M760 1130L722 1150M518 1128L555 1134M480 1162L700 1130M315 1210L640 1145M565 1228L645 1160M395 1265L570 1248M582 1262L650 1200M240 1298L605 1298L655 1258M428 1320L620 1320L690 1260M690 1320L712 1303M1306 322L1333 303M1362 642L1385 620M1110 670L1100 650M1045 827L1040 805M1097 842L1135 818M975 851L982 868M1090 877L1125 868M1098 927L1115 935M975 1210L935 1300M960 1297L1028 1262M935 1313L995 1327"/>
<path class="gd" vector-effect="non-scaling-stroke" d="M128 414h.1M128 466h.1M380 406h.1M427 490h.1M361 528h.1M290 580h.1M557 571h.1M345 597h.1M89 583h.1M544 613h.1M454 649h.1M408 719h.1M534 732h.1M578 771h.1M515 789h.1M432 803h.1M558 822h.1M433 833h.1M502 842h.1M502 852h.1M541 888h.1M553 895h.1M459 911h.1M476 926h.1M627 1001h.1M596 1037h.1M626 1078h.1M425 1026h.1M509 1019h.1M605 1077h.1M686 1091h.1M805 1067h.1M750 1131h.1M563 1136h.1M709 1131h.1M648 1141h.1M614 1157h.1M719 1153h.1M576 1195h.1M656 1184h.1M656 1199h.1M659 1205h.1M741 1181h.1M589 1238h.1M664 1233h.1M698 1224h.1M614 1267h.1M667 1251h.1M684 1249h.1M699 1254h.1M712 1266h.1M712 1292h.1M731 1291h.1M740 1300h.1M738 1310h.1"/>
<path class="bd" vector-effect="non-scaling-stroke" d="M1300 330h.1M1357 648h.1M1114 677h.1M1048 835h.1M1092 846h.1M972 843h.1M1086 880h.1M1091 927h.1M880 970h.1M1054 1077h.1M919 1285h.1M965 1273h.1M946 1302h.1M932 1310h.1M935 1305h.1M930 1316h.1M967 1335h.1"/>
<g class="lb">
<text x="150" y="375">TRIM33</text><text x="165" y="438">TRIM28</text><text x="423" y="463">YEATS2</text><text x="230" y="498">PIAS1</text><text x="123" y="552">ZBTB33</text><text x="570" y="543">SUMO1</text><text x="375" y="572">TRIM24</text><text x="97" y="643">GTF2I</text><text x="570" y="612">SUMO2</text><text x="362" y="625">ZMYM4</text><text x="183" y="678">GATAD2B</text><text x="545" y="677">ZMYM2</text><text x="587" y="725">TOP2A</text><text x="200" y="737">ZNF451</text><text x="107" y="783">ADNP</text><text x="530" y="808">GATAD2A</text><text x="140" y="825">MGA</text><text x="587" y="856">RESF1</text><text x="163" y="870">ARID3B</text><text x="270" y="906">ARID3A</text><text x="587" y="900">NCOR1</text><text x="107" y="970">SATB1/SATB2</text><text x="587" y="948">NFRKB</text><text x="478" y="988">PIAS3</text><text x="658" y="998">GTF3C4</text><text x="175" y="1055">ZBTB21</text><text x="163" y="1108">RAD54L2</text><text x="443" y="1093">PIAS2</text><text x="712" y="1043">TCERG1</text><text x="718" y="1097">MED23</text><text x="763" y="1135">FAM50A</text><text x="380" y="1135">SNW1</text><text x="325" y="1177">TOP2B</text><text x="143" y="1223">PARP1</text><text x="433" y="1238">DDX5</text><text x="255" y="1277">NAB1</text><text x="460" y="1290">XAB2</text><text x="140" y="1308">BLM</text><text x="267" y="1332">HCFC1</text><text x="485" y="1360">CDKN2AIP</text>
<text x="1340" y="302">PCNA</text><text x="1393" y="625">H2AC14</text><text x="957" y="640">PGAM2</text><text x="937" y="797">BCOR</text><text x="1143" y="827">USP7</text><text x="942" y="907">UBC</text><text x="1137" y="880">UBA1</text><text x="1123" y="947">RNF40, RNF20</text><text x="980" y="1205">RNF220</text><text x="1035" y="1267">RFC4</text><text x="1003" y="1340">TDP2</text>
</g>
</g>

<!-- ================= PANEL D ================= -->
<text x="0" y="1101" font-size="27" font-weight="bold">d</text>
<g font-size="22" text-anchor="middle">
<text x="90.7" y="1114">SUMO1</text><text x="90.7" y="1141.7">preference</text>
<text x="319.8" y="1114">SUMO2</text><text x="319.8" y="1141.7">preference</text>
</g>
<g stroke="#000" stroke-width="2">
<line x1="46.4" y1="1155.3" x2="135.4" y2="1155.3"/><line x1="222.3" y1="1155.3" x2="400.3" y2="1155.3"/>
</g>
<text transform="translate(18.5,1345.5) rotate(-90)" font-size="21" text-anchor="middle" xml:space="preserve">-Log 10  <tspan font-style="italic">p</tspan>-value</text>
<text x="223.3" y="1563.4" font-size="19.5" text-anchor="middle">TP53 SUMO2-ID / SUMO1-ID (Log2)</text>

<g class="g7" transform="translate(0,1086.96) scale(0.3384,0.3078)">
<g stroke="#000" fill="none">
<line x1="400" y1="265" x2="400" y2="1409" stroke-width="3.25" stroke-dasharray="8.1 6.5"/>
<line x1="660" y1="265" x2="660" y2="1409" stroke-width="3.25" stroke-dasharray="8.1 6.5"/>
<line x1="138" y1="1161" x2="1180" y2="1161" stroke-width="3.57" stroke-dasharray="7.4 5.9"/>
<line x1="138" y1="265" x2="138" y2="1409" stroke-width="3.55"/>
<line x1="136" y1="1409" x2="1182" y2="1409" stroke-width="3.9"/>
<line x1="131.35" y1="263.05" x2="131.35" y2="1412" stroke-width="13.3" stroke-dasharray="3.9 186.77"/>
<line x1="134.3" y1="263.05" x2="134.3" y2="1412" stroke-width="7.4" stroke-dasharray="3.9 34.23"/>
<line x1="136.23" y1="1417.1" x2="1185" y2="1417.1" stroke-width="16.2" stroke-dasharray="3.55 126.95"/>
<line x1="136.23" y1="1413.05" x2="1185" y2="1413.05" stroke-width="8.1" stroke-dasharray="3.55 9.5"/>
</g>
<g class="tk7" text-anchor="end"><text x="122" y="279.3">6</text><text x="122" y="470">5</text><text x="122" y="660.6">4</text><text x="122" y="851.3">3</text><text x="122" y="1042">2</text><text x="122" y="1232.6">1</text><text x="122" y="1423.3">0</text></g>
<g class="tk7" text-anchor="middle"><text x="138" y="1467">-3</text><text x="268.5" y="1467">-2</text><text x="399" y="1467">-1</text><text x="529.5" y="1467">0</text><text x="660" y="1467">1</text><text x="790.5" y="1467">2</text><text x="921" y="1467">3</text><text x="1051.5" y="1467">4</text><text x="1182" y="1467">5</text></g>
<path class="gy" vector-effect="non-scaling-stroke" d="M405 1175h.1M432 1218h.1M465 1208h.1M475 1230h.1M460 1293h.1M472 1298h.1M440 1337h.1M465 1357h.1M470 1370h.1M470 1388h.1M480 1390h.1M490 1390h.1M497 1390h.1M507 1380h.1M510 1392h.1M515 1398h.1M525 1407h.1M530 1408h.1M545 1385h.1M575 1385h.1M578 1370h.1M570 1307h.1M573 1323h.1M597 1280h.1M597 1305h.1M595 1343h.1M613 1335h.1M613 1238h.1M600 1168h.1M650 1190h.1M643 1305h.1M658 1302h.1"/>
<path class="ld" vector-effect="non-scaling-stroke" d="M1093 333L1112 348M1062 545L1078 518M865 670L885 830M926 752L942 708M790 722L835 832M1115 727L1133 702M918 858L948 770M760 790L780 842M1080 883L1175 805M944 888L955 845M1165 875L1248 835M775 920L778 900M670 870L718 915M944 920L972 882M1006 932L1228 890M798 950L806 932M665 915L766 998M1030 943L1185 938M642 968L666 990M850 985L860 960M1008 972L1062 968M945 1025L1320 975M885 1045L918 1020M945 1028L1385 1008M655 1018L725 1010M792 1032L828 1027M958 1053L1170 1045M637 1075L738 1073M1025 1072L1207 1080M875 1065L1070 1178M993 1102L1150 1118M638 1125L785 1107M750 1172L865 1125M888 1185L884 1140M840 1218L848 1170M905 1100L1020 1222M945 1158L1015 1250M752 1245L790 1315M695 1360L710 1340M752 1340L810 1365M312 932L330 980M340 1045L386 1020"/>
<path class="gd" vector-effect="non-scaling-stroke" d="M1121 357h.1M1057 554h.1M890 845h.1M923 762h.1M838 840h.1M1110 734h.1M913 866h.1M733 810h.1M782 850h.1M1073 890h.1M940 896h.1M1157 879h.1M774 928h.1M724 923h.1M940 928h.1M1000 935h.1M795 957h.1M773 1003h.1M1022 943h.1M731 944h.1M672 996h.1M846 993h.1M1000 974h.1M733 1010h.1M888 1025h.1M834 1027h.1M936 1026h.1M626 1050h.1M661 1050h.1M727 1046h.1M877 1052h.1M950 1053h.1M866 1063h.1M746 1072h.1M1019 1072h.1M950 1085h.1M647 1094h.1M986 1101h.1M905 1099h.1M793 1106h.1M742 1126h.1M873 1125h.1M885 1130h.1M849 1153h.1M942 1158h.1M576 1152h.1M758 1197h.1M797 1197h.1M677 1219h.1M940 1234h.1M748 1233h.1M954 1262h.1M748 1267h.1M753 1265h.1M672 1275h.1M694 1290h.1M757 1298h.1M663 1307h.1M663 1314h.1M714 1332h.1M745 1337h.1M335 987h.1M392 1017h.1M338 1250h.1M374 1242h.1M374 1266h.1M263 1309h.1M385 1347h.1"/>
<g class="lb7">
<text x="837" y="332">SATB1/SATB2</text><text x="1085" y="515">PCBP1</text><text x="795" y="655">ARID3A</text><text x="942" y="700">ADNP</text><text x="667" y="715">YEATS2</text><text x="1127" y="692">MGA</text><text x="958" y="765">ZMYM4</text><text x="662" y="783">SUMO2</text><text x="1198" y="795">RPA1</text><text x="957" y="827">NCOR1</text><text x="1257" y="845">XAB2</text><text x="735" y="889">TRIM28</text><text x="552" y="877">PIAS1</text><text x="968" y="872">NFRKB</text><text x="1237" y="895">BUD13</text><text x="805" y="927">PIAS2</text><text x="520" y="927">ZMYM2</text><text x="1190" y="950">ARID3B</text><text x="500" y="980">ZBTB33</text><text x="865" y="973">PIAS3</text><text x="1068" y="982">ZNF451</text><text x="1327" y="978">GTF3C4</text><text x="900" y="1015">DDX5</text><text x="1393" y="1020">RAD54L2</text><text x="543" y="1030">GTF2I</text><text x="740" y="1065">TOP2B</text><text x="1183" y="1052">GATAD2B</text><text x="480" y="1090">TCERG1</text><text x="1217" y="1092">CCT8</text><text x="1078" y="1195">HCFC1</text><text x="1162" y="1135">SNW1</text><text x="488" y="1135">FAM50A</text><text x="670" y="1195">BLM</text><text x="848" y="1225">BRCA2</text><text x="1028" y="1242">ZBTB21</text><text x="970" y="1295">TOP2A</text><text x="773" y="1270">GATAD2A</text><text x="788" y="1335">CDKN2AIP</text><text x="668" y="1387">ACTG1</text><text x="813" y="1383">NAB1</text><text x="195" y="920">SUMO1</text><text x="190" y="1060">RANBP2</text>
</g>
</g>
</svg>
</body></html>
